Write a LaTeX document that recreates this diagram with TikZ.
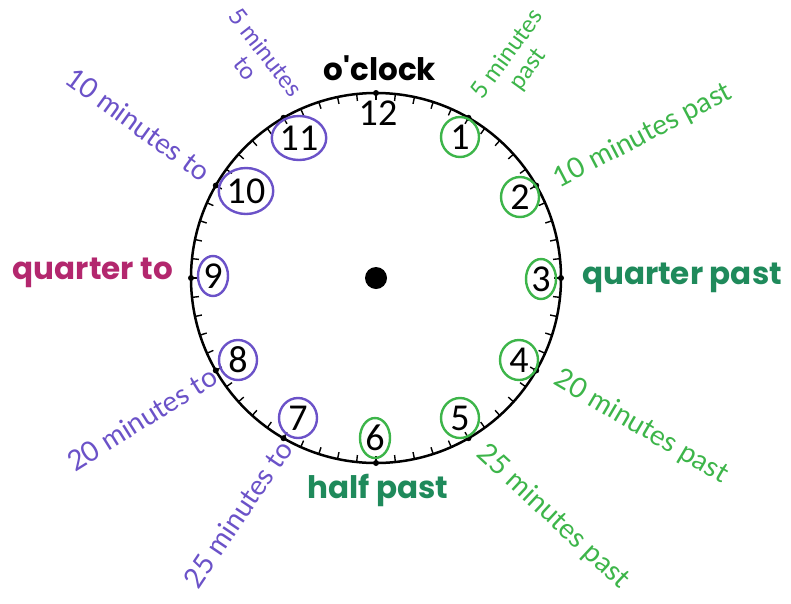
\documentclass[tikz,border=0pt]{standalone}
\usepackage{fontspec}
\setmainfont{Carlito}
\newfontfamily\handfont{Lato}
\newfontfamily\roundfont{Poppins}
\usetikzlibrary{shapes.geometric, calc}
\definecolor{mintopurple}{HTML}{6B52C8}
\definecolor{minpastgreen}{HTML}{3DB54A}
\definecolor{qtomagenta}{HTML}{B3276E}
\definecolor{qpastgreen}{HTML}{1F8A5B}

\begin{document}
\begin{tikzpicture}[x=1pt, y=-1pt,
    num/.style={ellipse, inner sep=0pt, minimum width=38pt, minimum height=40pt,
                font=\fontsize{38}{38}\selectfont},
    ringto/.style={num, draw=mintopurple, line width=2.4pt},
    ringpast/.style={num, draw=minpastgreen, line width=2.4pt},
    hand/.style={inner sep=0pt, align=center, font=\handfont\fontsize{28}{24}\selectfont},
    small hand/.style={hand, font=\handfont\fontsize{24}{25}\selectfont},
    bold/.style={inner sep=0pt, font=\roundfont\bfseries\fontsize{31}{31}\selectfont},
    tick/.style={line width=1.4pt}
  ]
    \useasboundingbox (0,0) rectangle (791,603);

    % Clock face
    \coordinate (c) at (376,278);
    \draw[line width=2.5pt] (c) circle (185);
    \foreach \m in {0,...,59}
      \draw[tick] ($(c)+(\m*6:185)$) -- ($(c)+(\m*6:178)$);
    \foreach \h in {1,...,12}
      \fill ($(c)+(\h*30:185)$) circle (3);
    \fill (c) circle (11);

    % Hour numbers
    \node[num] (n12) at (378,113) {12};
    \node[ringpast] (n1) at (460,137) {1};
    \node[ringpast] (n2) at (520,197) {2};
    \node[ringpast, minimum width=30pt] (n3) at (541,279) {3};
    \node[ringpast] (n4) at (519,360) {4};
    \node[ringpast] (n5) at (460,418) {5};
    \node[ringpast, minimum width=30pt] (n6) at (375,438) {6};
    \node[ringto] (n7) at (298,418) {7};
    \node[ringto] (n8) at (238,360) {8};
    \node[ringto, minimum width=30pt] (n9) at (213,276) {9};
    \node[ringto, minimum width=52pt, minimum height=46pt] (n10) at (246,191) {10};
    \node[ringto, minimum width=52pt, minimum height=44pt] (n11) at (299,138) {11};

    % Main labels
    \node[bold] (oclock) at (380,68) {o'clock};
    \node[bold, qtomagenta] (qto) at (93,273) {quarter to};
    \node[bold, qpastgreen] (qpast) at (682,278) {quarter past};
    \node[bold, qpastgreen] (half) at (378,490) {half past};

    % Minutes to
    \node[small hand, mintopurple, rotate=-52] (to5) at (256,60) {5 minutes\\to};
    \node[hand, mintopurple, rotate=-36] (to10) at (138,124) {10 minutes to};
    \node[hand, mintopurple, rotate=32] (to20) at (142,419) {20 minutes to};
    \node[hand, mintopurple, rotate=56] (to25) at (238,514) {25 minutes to};

    % Minutes past
    \node[small hand, minpastgreen, rotate=54] (past5) at (518,62) {5 minutes\\past};
    \node[hand, minpastgreen, rotate=27.5] (past10) at (643,136) {10 minutes past};
    \node[hand, minpastgreen, rotate=-30.5] (past20) at (641,427) {20 minutes past};
    \node[hand, minpastgreen, rotate=-43] (past25) at (553,517) {25 minutes past};
\end{tikzpicture}
\end{document}
